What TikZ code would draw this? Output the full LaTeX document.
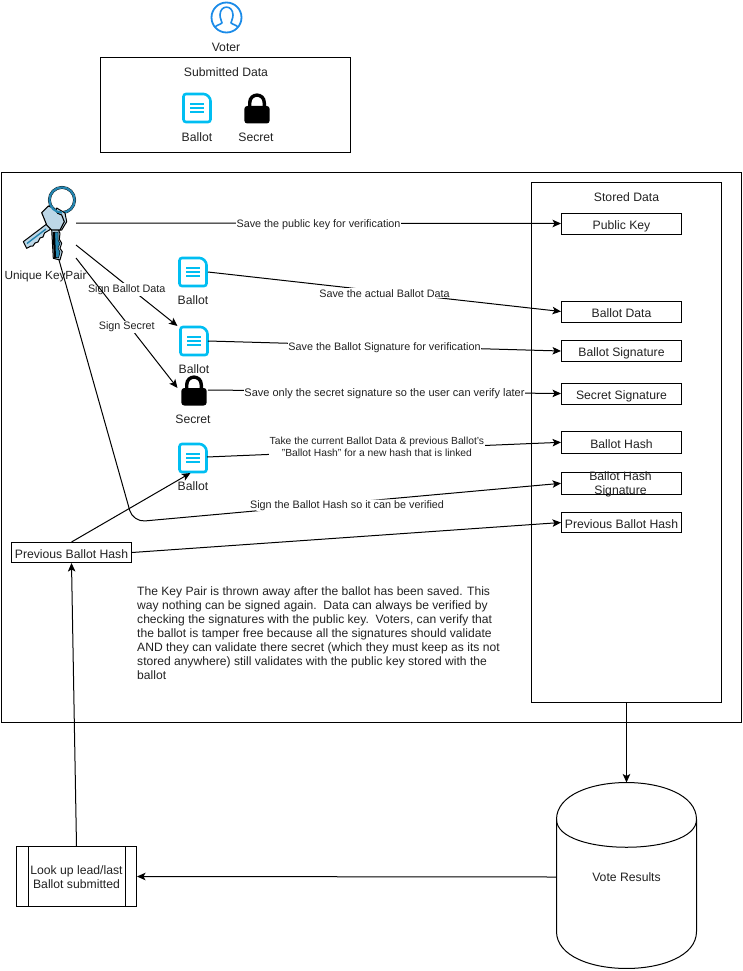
\documentclass[tikz,border=0pt]{standalone}
\usepackage{fontspec}
\setmainfont{Liberation Sans}
\usetikzlibrary{arrows.meta}
\definecolor{doccyan}{HTML}{00BEF2}
\definecolor{voterblue}{HTML}{1B8BE8}
\definecolor{txt}{HTML}{222222}
\definecolor{keyfill}{HTML}{BDD7E7}
\definecolor{keyring}{HTML}{2485B0}
\newcommand{\edgefont}{\fontsize{10.8}{13}\selectfont}
\tikzset{
  x=1pt,y=-1pt,
  every node/.style={font=\fontsize{12.2}{14}\selectfont,text=txt,inner sep=0pt,align=center},
  rowbox/.style={draw=black,line width=1pt,minimum width=120pt,minimum height=22pt,anchor=center,fill=white,text height=11.5pt,text depth=0pt},
  conn/.style={draw=black,line width=1pt,-{Stealth[length=8.5pt,width=7.5pt,inset=2pt]}},
  lab/.style={fill=white,inner ysep=1pt,inner xsep=0.5pt,font=\edgefont,yshift=-1.5pt},
  captext/.style={anchor=center},
  docicon/.pic={
    \draw[doccyan,line width=2.6pt,rounded corners=2.5pt] (-13.5,-14) -- (9,-14) -- (13.5,-9.5) -- (13.5,14) -- (-13.5,14) -- cycle;
    \draw[doccyan,line width=2.1pt] (-7,-4.3) -- (7,-4.3) (-7,0) -- (7,0) (-7,4.3) -- (7,4.3);
  },
  lockicon/.pic={
    \draw[black,line width=3.4pt] (-7.3,1) -- (-7.3,-5) .. controls (-7.3,-15.5) and (7.3,-15.5) .. (7.3,-5) -- (7.3,1);
    \fill[black,rounded corners=3pt] (-12.7,-2) rectangle (12.7,15.5);
  },
}
\begin{document}
\begin{tikzpicture}
\useasboundingbox (0,0) rectangle (743,971);
% containers
\node[draw=black,line width=1pt,minimum width=250pt,minimum height=95pt] (submitted) at (225.5,105) {};
\node[draw=black,line width=1pt,minimum width=740pt,minimum height=550pt] (outer) at (371.5,447.5) {};
\node[draw=black,line width=1pt,minimum width=190pt,minimum height=520pt] (stored) at (626.5,442.5) {};
% voter
\coordinate (voter) at (226.5,17.5);
\draw[voterblue,line width=1.8pt] (voter) circle[radius=15];
\begin{scope}
\clip (voter) circle[radius=15];
\draw[voterblue,line width=1.6pt,line join=round] (214,30) .. controls (214,25) and (220,25) .. (222,23) .. controls (222,21) and (220,19) .. (220,15) .. controls (220,4.5) and (233,4.5) .. (233,15) .. controls (233,19) and (231,21) .. (231,23) .. controls (233,25) and (239,25) .. (239,30);
\end{scope}
\node[captext] (voterlabel) at (226,47.5) {Voter};
% submitted
\node[captext] (sublabel) at (226,72.5) {Submitted Data};
\pic at (197,108) {docicon};
\node[captext] (subballot) at (197,137) {Ballot};
\pic at (257,108) {lockicon};
\node[captext] (subsecret) at (256,137.5) {Secret};
% key icon
\begin{scope}[line join=round]
% ring
\draw[black,line width=2.9pt] (62,200) circle[radius=12.6];
\draw[keyring,line width=2.2pt] (62,200) circle[radius=12.6];
% key 2 (behind, pointing down)
\filldraw[black,fill=keyfill,line width=1pt] (56.7,208) -- (65,213) -- (66.7,221.7) -- (61.7,230) -- (58.3,230) -- (60,233.3) -- (59.3,239.3) -- (61.7,243.3) -- (60,248.3) -- (62.3,251.7) -- (60,260) -- (53.3,258.3) -- (51.7,230) -- cycle;
\filldraw[black,fill=keyring,line width=0.5pt] (54,232) -- (58,232) -- (58,240) -- (60,243.5) -- (58,248) -- (60,252) -- (58.5,258) -- (55,257) -- cycle;
\fill[black] (52.5,232) -- (55,232) -- (56,258) -- (54,258) -- cycle;
% key 1 (front, pointing lower left)
\filldraw[black,fill=keyfill,line width=1pt] (46.7,224) -- (23.3,241.7) -- (26.7,248.3) -- (31,246) -- (33,246) -- (35,243) -- (38,242) -- (40,238) -- (43,237) -- (44.5,233) -- (51,229) -- cycle;
\draw[keyring,line width=1.4pt] (27,243.5) -- (46,229);
% key 1 head
\filldraw[black,fill=keyfill,line width=1.1pt] (41.7,212.7) -- (48.3,206) -- (54.3,208.3) -- (57.7,213.3) -- (61.7,215) -- (64.3,221.7) -- (60,230) -- (51.7,230) -- (46.7,225) -- cycle;
% ring front part, over the key head
\begin{scope}
\clip (50,205) rectangle (62,215);
\draw[keyring,line width=2.2pt] (62,200) circle[radius=12.6];
\end{scope}
\end{scope}
\coordinate (keyr1) at (76,223);
\coordinate (keyr2) at (76,245);
\coordinate (keyr3) at (76,258);
\coordinate (keyb) at (59,260);
\node[captext,font=\fontsize{11.8}{14}\selectfont] (keylabel) at (45.5,276) {Unique KeyPair};
% ballot icons
\coordinate (b1) at (193,272);
\pic at (b1) {docicon};
\node[captext] (b1label) at (193,300.5) {Ballot};
\coordinate (b2) at (194,341);
\pic at (b2) {docicon};
\node[captext] (b2label) at (194,369.5) {Ballot};
\coordinate (lk) at (194,390);
\pic at (lk) {lockicon};
\node[captext] (lklabel) at (193,419.5) {Secret};
\coordinate (b3) at (193,458);
\pic at (b3) {docicon};
\node[captext] (b3label) at (193,486.5) {Ballot};
% stored
\node[captext] (storedlabel) at (626.5,197.5) {Stored Data};
\node[rowbox,minimum height=21pt] (pk) at (621.5,223.5) {Public Key};
\node[rowbox,minimum height=21pt] (bd) at (621.5,311.5) {Ballot Data};
\node[rowbox,minimum height=21pt] (bs) at (621.5,351) {Ballot Signature};
\node[rowbox,minimum height=21pt] (ss) at (621.5,393.5) {Secret Signature};
\node[rowbox] (bh) at (621.5,442.3) {Ballot Hash};
\node[rowbox] (bhs) at (621.5,483.3) {};
\node[rowbox,minimum height=20pt] (pbh) at (621.5,522.5) {Previous Ballot Hash};
\node[captext] (bhstext) at (620.5,484.5) {Ballot Hash\\Signature};
% previous hash
\node[draw=black,line width=1pt,minimum width=120pt,minimum height=20pt,text height=11pt,text depth=0pt] (prev) at (71.5,552.5) {Previous Ballot Hash};
% look up
\node[draw=black,line width=1pt,minimum width=120pt,minimum height=60pt] (lookup) at (76.5,876.5) {};
\node[captext] (lookuptext) at (76.5,877.5) {Look up lead/last\\Ballot submitted};
\draw[black,line width=1pt] ([xshift=12pt]lookup.north west) -- ([xshift=12pt]lookup.south west) ([xshift=-12pt]lookup.north east) -- ([xshift=-12pt]lookup.south east);
% cylinder
\coordinate (cyl) at (556.5,877);
\coordinate (cyltop) at (626.5,782.5);
\draw[black,line width=1pt,fill=white] (556.5,819.5) -- (556.5,931.5) .. controls (556.5,980.8) and (696.5,980.8) .. (696.5,931.5) -- (696.5,819.5) .. controls (696.5,770.2) and (556.5,770.2) .. (556.5,819.5) -- cycle;
\draw[black,line width=1pt] (556.5,819.5) .. controls (556.5,856.5) and (696.5,856.5) .. (696.5,819.5);
\node[captext] (vr) at (626.5,877) {Vote Results};
% body text
\node[anchor=north west,align=left,font=\fontsize{12.1}{14}\selectfont] (body) at (137,586.5) {The Key Pair is thrown away after the ballot has been saved. This\\way nothing can be signed again.\ \ Data can always be verified by\\checking the signatures with the public key.\ \ Voters, can verify that\\the ballot is tamper free because all the signatures should validate\\AND they can validate there secret (which they must keep as its not\\stored anywhere) still validates with the public key stored with the\\ballot};
% connectors
\draw[conn] (keyr1) -- node[lab,pos=0.5] {Save the public key for verification} (pk.west);
\draw[conn] (keyr2) -- node[lab,pos=0.5,yshift=-2.5pt] {Sign Ballot Data} (177.5,326);
\draw[conn] (keyr3) -- node[lab,pos=0.5,yshift=-2.5pt] {Sign Secret} (177.5,388);
\draw[conn,rounded corners=12pt] (keyb) -- (133,522) -- node[lab,pos=0.5,yshift=-1.5pt] {Sign the Ballot Hash so it can be verified} (bhs.west);
\draw[conn] (208,272) -- node[lab,pos=0.5] {Save the actual Ballot Data} (bd.west);
\draw[conn] (208,341) -- node[lab,pos=0.5] {Save the Ballot Signature for verification} (bs.west);
\draw[conn] (208,390) -- node[lab,pos=0.5,font=\fontsize{11}{13}\selectfont] {Save only the secret signature so the user can verify later} (ss.west);
\draw[conn] (207,457) -- node[lab,pos=0.48,font=\fontsize{10.3}{12.2}\selectfont,yshift=5pt] {Take the current Ballot Data \& previous Ballot's\\"Ballot Hash" for a new hash that is linked} (bh.west);
\draw[conn] (prev.north) -- (190.5,473);
\draw[conn] (prev.east) -- (pbh.west);
\draw[conn] (lookup.north) -- (prev.south);
\draw[conn] (stored.south) -- (cyltop);
\draw[conn] (cyl) -- (lookup.east);
\end{tikzpicture}
\end{document}
